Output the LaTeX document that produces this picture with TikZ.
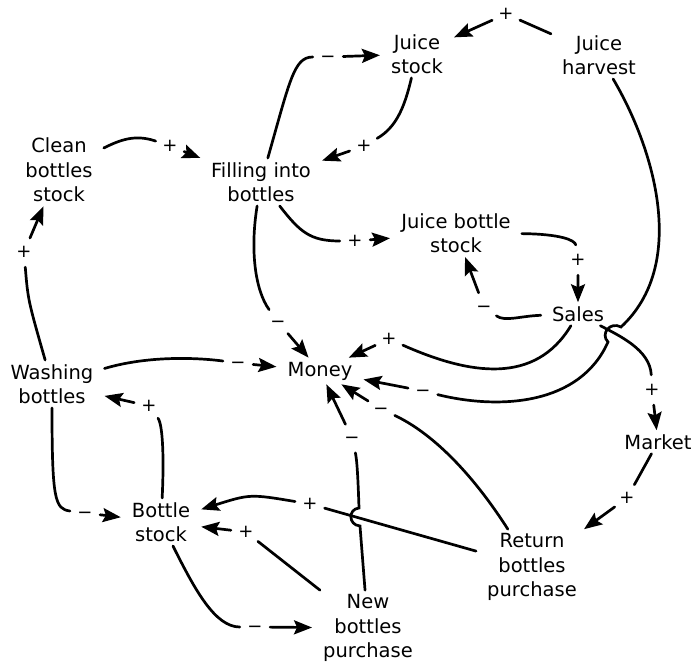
\documentclass[tikz,border=0pt]{standalone}
\usepackage{fontspec}
\setmainfont{DejaVu Sans}
\usetikzlibrary{arrows.meta}

\begin{document}
\begin{tikzpicture}[x=1pt, y=-1pt]
    \tikzstyle{var}=[align=center, font=\fontsize{19.5}{24.5}\selectfont, inner xsep=11pt, inner ysep=4pt]
    \tikzstyle{sign}=[circle, minimum size=30pt, inner sep=0pt, font=\fontsize{18}{18}\selectfont]
    \tikzstyle{link}=[line width=2.7pt, line cap=round, -{Stealth[length=18pt, width=14pt, inset=3pt]}]

    \path[fill=white, use as bounding box] (0,0) rectangle (694,666);

    % Variables
    \node[var] (jStock)   at (417,54)  {Juice\\stock};
    \node[var] (jHarvest) at (599,55)  {Juice\\harvest};
    \node[var] (clean)    at (59,170)  {Clean\\bottles\\stock};
    \node[var] (filling)  at (261,182) {Filling into\\bottles};
    \node[var] (jbStock)  at (456,233) {Juice bottle\\stock};
    \node[var] (sales)    at (578,314) {Sales};
    \node[var] (money)    at (320,371) {Money};
    \node[var] (washing)  at (52,384)  {Washing\\bottles};
    \node[var] (market)   at (658,442) {Market};
    \node[var] (bStock)   at (161,522) {Bottle\\stock};
    \node[var] (retBuy)   at (532,567) {Return\\bottles\\purchase};
    \node[var] (newBuy)   at (368,628) {New\\bottles\\purchase};

    % Polarity signs
    \node[sign] (sg1)  at (506,14)  {+};
    \node[sign] (sg2)  at (364,146) {+};
    \node[sign] (sg3)  at (328,57)  {\vphantom{+}−};
    \node[sign] (sg4)  at (170,146) {+};
    \node[sign] (sg5)  at (355,241) {+};
    \node[sign] (sg6)  at (278,322) {\vphantom{+}−};
    \node[sign] (sg7)  at (238,363) {\vphantom{+}−};
    \node[sign] (sg8)  at (24,252)  {+};
    \node[sign] (sg9)  at (85,513)  {\vphantom{+}−};
    \node[sign] (sg10) at (149,406) {+};
    \node[sign] (sg11) at (255,627) {\vphantom{+}−};
    \node[sign] (sg12) at (246,532) {+};
    \node[sign] (sg13) at (310,504) {+};
    \node[sign] (sg14) at (352,438) {\vphantom{+}−};
    \node[sign] (sg15) at (381,409) {\vphantom{+}−};
    \node[sign] (sg16) at (423,391) {\vphantom{+}−};
    \node[sign] (sg17) at (389,339) {+};
    \node[sign] (sg18) at (484,307) {\vphantom{+}−};
    \node[sign] (sg19) at (578,260) {+};
    \node[sign] (sg20) at (652,390) {+};
    \node[sign] (sg21) at (627,498) {+};

    % Line jumps
    \coordinate (jmpA) at (360,526);
    \coordinate (jmpB) at (359,508);
    \coordinate (jmpC) at (621,327);
    \coordinate (jmpD) at (608,342);

    % Links
    \draw[link] (jHarvest) -- (sg1) -- (jStock);
    \draw[link] (jStock) .. controls (404,110) and (395,128) .. (sg2) -- (filling);
    \draw[link] (filling) .. controls (290,80) and (294,57) .. (sg3) -- (jStock);
    \draw[link] (clean) .. controls (120,140) and (135,134) .. (sg4) -- (filling);
    \draw[link] (filling) .. controls (300,232) and (310,241) .. (sg5) -- (jbStock);
    \draw[link] (filling) .. controls (250,250) and (255,290) .. (sg6) -- (money);
    \draw[link] (washing) .. controls (150,355) and (200,358) .. (sg7) -- (money);
    \draw[link] (washing) .. controls (28,300) .. (sg8) -- (clean);
    \draw[link] (washing) .. controls (52,500) and (55,509) .. (sg9) -- (bStock);
    \draw[link] (bStock) .. controls (164,460) and (163,425) .. (sg10) -- (washing);
    \draw[link] (bStock) .. controls (195,590) and (215,627) .. (sg11) -- (newBuy);
    \draw[link] (newBuy) -- (sg12) -- (bStock);
    \draw[link] (retBuy) -- (sg13) .. controls (250,494) .. (bStock);
    \draw[link] (newBuy) -- (jmpA) .. controls (348,525) and (348,509) .. (jmpB)
        .. controls (358,478) and (357,460) .. (sg14) -- (money);
    \draw[link] (retBuy) .. controls (470,470) and (430,432) .. (sg15) -- (money);
    \draw[link] (jHarvest) .. controls (655,150) and (688,265) .. (jmpC)
        .. controls (610,321) and (600,334) .. (jmpD)
        .. controls (580,405) and (500,410) .. (sg16) -- (money);
    \draw[link] (sales) .. controls (535,385) and (470,375) .. (sg17) -- (money);
    \draw[link] (sales) .. controls (520,316) and (505,322) .. (sg18) -- (jbStock);
    \draw[link] (jbStock) .. controls (560,234) and (575,240) .. (sg19) -- (sales);
    \draw[link] (sales) .. controls (620,336) and (650,350) .. (sg20) -- (market);
    \draw[link] (market) -- (sg21) -- (retBuy);
\end{tikzpicture}
\end{document}
